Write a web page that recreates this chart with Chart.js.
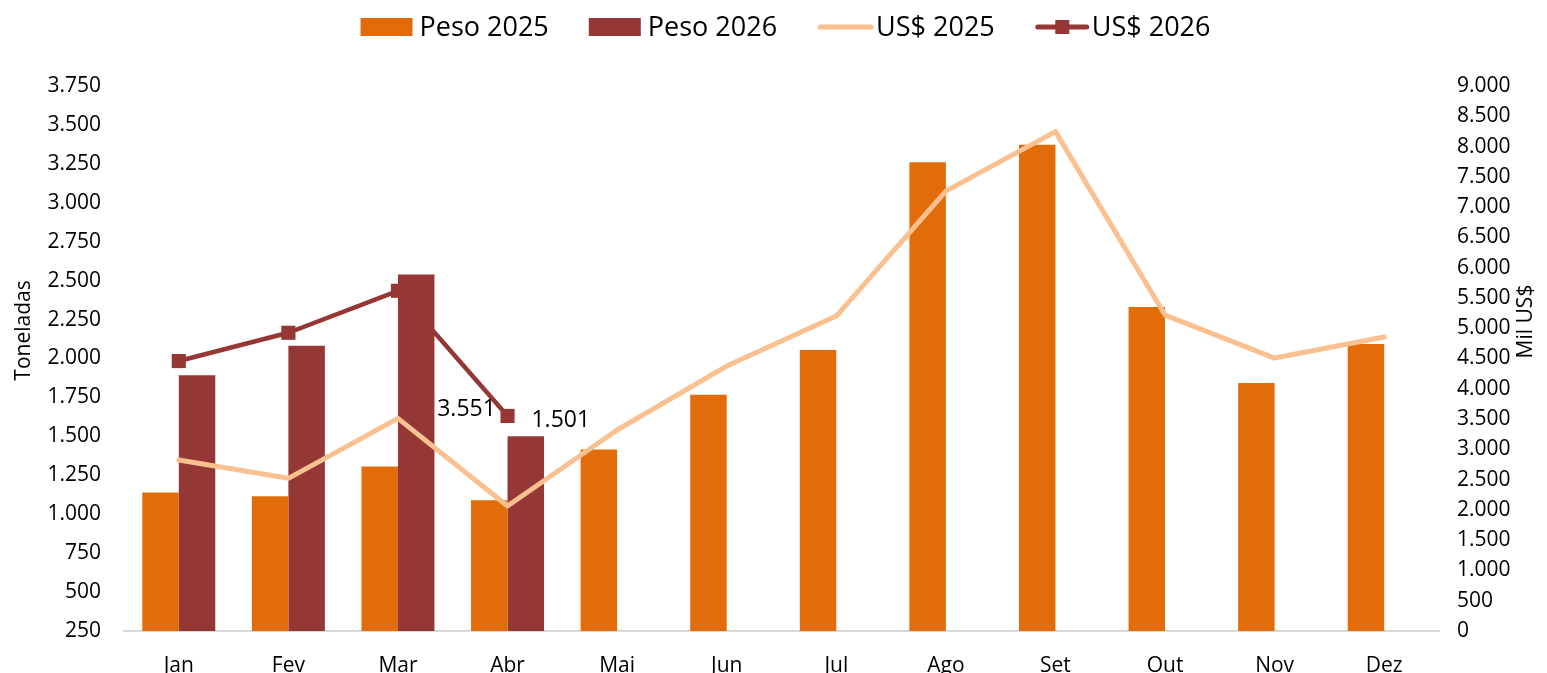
<!DOCTYPE html>
<html>
<head>
<meta charset="utf-8">
<script src="https://cdn.jsdelivr.net/npm/chart.js@4.4.1/dist/chart.umd.min.js"></script>
<style>
html, body { margin: 0; padding: 0; background: #fff; }
#wrap { width: 1547px; height: 673px; }
</style>
</head>
<body>
<div id="wrap"><canvas id="grafico"></canvas></div>
<script>
const meses = ['Jan', 'Fev', 'Mar', 'Abr', 'Mai', 'Jun', 'Jul', 'Ago', 'Set', 'Out', 'Nov', 'Dez'];

// Toneladas (eixo esquerdo)
const peso2025 = [1140, 1115, 1307, 1089, 1416, 1768, 2054, 3261, 3372, 2330, 1842, 2093];
const peso2026 = [1893, 2082, 2540, 1501, null, null, null, null, null, null, null, null];

// Mil US$ (eixo direito)
const usd2025 = [2823, 2521, 3511, 2064, 3319, 4375, 5201, 7264, 8247, 5217, 4507, 4854];
const usd2026 = [4458, 4925, 5618, 3551, null, null, null, null, null, null, null, null];

const eixoToneladas = { min: 250, max: 3750, passo: 250 };
const eixoMilUsd = { min: 0, max: 9000, passo: 500 };

const legenda = ['Peso 2025', 'Peso 2026', 'US$ 2025', 'US$ 2026'];

const LARANJA = '#E36C0A';
const VINHO = '#953735';
const PESSEGO = '#FAC090';
const FONTE = '"Open Sans", "Noto Sans", sans-serif';

const fmt = v => String(v).replace(/\B(?=(\d{3})+(?!\d))/g, '.');

// legenda desenhada no canvas, no estilo do Excel
const legendaPlugin = {
    id: 'legendaExcel',
    afterDraw(chart) {
        const ctx = chart.ctx;
        ctx.save();
        ctx.font = '27px ' + FONTE;
        ctx.textBaseline = 'middle';
        ctx.fillStyle = '#000';
        const icones = [52, 52, 57, 55];
        const gapTexto = [7, 7, 2, 2];
        const gapItem = 40;
        let total = 0;
        legenda.forEach((t, i) => {
            total += icones[i] + gapTexto[i] + ctx.measureText(t).width;
            if (i < legenda.length - 1) total += gapItem;
        });
        const ca = chart.chartArea;
        let x = (ca.left + ca.right) / 2 + 4 - total / 2;
        const y = 27;
        legenda.forEach((t, i) => {
            const w = icones[i];
            if (i < 2) {
                ctx.fillStyle = i === 0 ? LARANJA : VINHO;
                ctx.fillRect(x, y - 9, w, 18);
            } else {
                ctx.strokeStyle = i === 2 ? PESSEGO : VINHO;
                ctx.lineWidth = 5;
                ctx.lineCap = 'round';
                ctx.beginPath();
                ctx.moveTo(x + 3, y);
                ctx.lineTo(x + w - 3, y);
                ctx.stroke();
                if (i === 3) {
                    ctx.fillStyle = VINHO;
                    ctx.fillRect(x + w / 2 - 7, y - 7, 14, 14);
                }
            }
            x += w + gapTexto[i];
            ctx.fillStyle = '#000';
            ctx.fillText(t, x, y + 1);
            x += ctx.measureText(t).width + gapItem;
        });
        ctx.restore();
    }
};

// títulos dos eixos (os dois lidos de baixo para cima) e rótulos de Abr/2026
const extrasPlugin = {
    id: 'extras',
    afterDatasetsDraw(chart) {
        const ctx = chart.ctx;
        const ca = chart.chartArea;
        ctx.save();
        ctx.fillStyle = '#000';
        ctx.textAlign = 'center';
        ctx.textBaseline = 'middle';
        ctx.font = '21px ' + FONTE;

        ctx.save();
        ctx.translate(24, (ca.top + ca.bottom) / 2 - 28);
        ctx.rotate(-Math.PI / 2);
        ctx.fillText('Toneladas', 0, 0);
        ctx.restore();

        ctx.save();
        ctx.translate(1526, (ca.top + ca.bottom) / 2 - 37);
        ctx.rotate(-Math.PI / 2);
        ctx.fillText('Mil US$', 0, 0);
        ctx.restore();

        ctx.font = '23px ' + FONTE;
        const barra = chart.getDatasetMeta(1).data[3];
        ctx.fillText(fmt(peso2026[3]), barra.x + 35, barra.y - 16);
        const ponto = chart.getDatasetMeta(3).data[3];
        ctx.fillText(fmt(usd2026[3]), ponto.x - 41, ponto.y - 7);
        ctx.restore();
    }
};

new Chart(document.getElementById('grafico'), {
    type: 'bar',
    data: {
        labels: meses,
        datasets: [
            {
                label: legenda[0],
                data: peso2025,
                backgroundColor: LARANJA,
                yAxisID: 'y',
                order: 2,
                barPercentage: 1,
                categoryPercentage: 0.666
            },
            {
                label: legenda[1],
                data: peso2026,
                backgroundColor: VINHO,
                yAxisID: 'y',
                order: 2,
                barPercentage: 1,
                categoryPercentage: 0.666
            },
            {
                type: 'line',
                label: legenda[2],
                data: usd2025,
                borderColor: PESSEGO,
                borderWidth: 5,
                borderJoinStyle: 'round',
                borderCapStyle: 'round',
                pointRadius: 0,
                yAxisID: 'y1',
                order: 1
            },
            {
                type: 'line',
                label: legenda[3],
                data: usd2026,
                borderColor: VINHO,
                borderWidth: 4.5,
                borderJoinStyle: 'round',
                pointStyle: 'rect',
                pointRadius: 10,
                pointBackgroundColor: VINHO,
                pointBorderWidth: 0,
                yAxisID: 'y1',
                order: 0
            }
        ]
    },
    options: {
        responsive: true,
        maintainAspectRatio: false,
        animation: false,
        layout: { padding: { top: 86, left: 0, right: 0, bottom: 0 } },
        plugins: {
            legend: { display: false },
            tooltip: { enabled: false }
        },
        scales: {
            x: {
                grid: { display: false },
                border: { display: true, color: '#d9d9d9', width: 2 },
                ticks: { color: '#000', font: { family: FONTE, size: 21 }, padding: 14 },
                afterFit: s => { s.height = 42; }
            },
            y: {
                position: 'left',
                min: eixoToneladas.min,
                max: eixoToneladas.max,
                grid: { display: false, drawTicks: false },
                border: { display: false },
                ticks: {
                    stepSize: eixoToneladas.passo,
                    padding: 23,
                    color: '#000',
                    font: { family: FONTE, size: 21 },
                    callback: v => fmt(v)
                },
                afterFit: s => { s.width = 124; }
            },
            y1: {
                position: 'right',
                min: eixoMilUsd.min,
                max: eixoMilUsd.max,
                grid: { display: false, drawTicks: false },
                border: { display: false },
                ticks: {
                    stepSize: eixoMilUsd.passo,
                    padding: 18,
                    color: '#000',
                    font: { family: FONTE, size: 21 },
                    callback: v => fmt(v)
                },
                afterFit: s => { s.width = 108; }
            }
        }
    },
    plugins: [legendaPlugin, extrasPlugin]
});
</script>
</body>
</html>
